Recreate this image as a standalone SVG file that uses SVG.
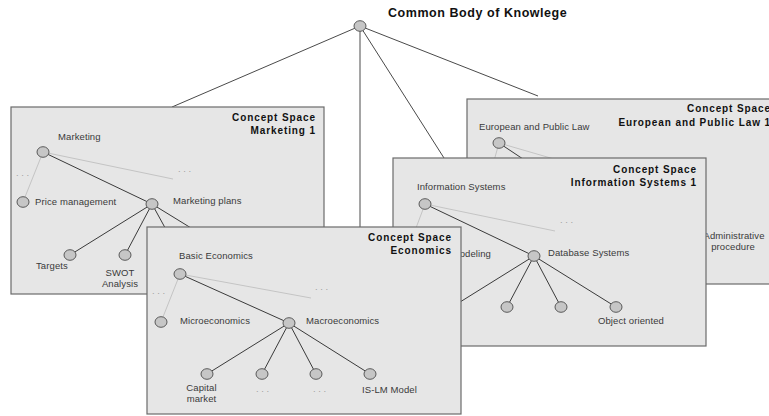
<svg xmlns="http://www.w3.org/2000/svg" width="769" height="416" viewBox="0 0 769 416">
<style>
.bg{fill:#ffffff}
.box{fill:#e6e6e6;stroke:#6b6b6b;stroke-width:1.2}
.node{fill:#c6c6c6;stroke:#5a5a5a;stroke-width:1}
.dk{stroke:#3a3a3a;stroke-width:1;fill:none}
.lt{stroke:#c4c4c4;stroke-width:1;fill:none}
.root{stroke:#4a4a4a;stroke-width:1;fill:none}
.ttl{font-family:"Liberation Sans",Arial,sans-serif;font-weight:bold;font-size:10px;letter-spacing:0.9px;fill:#111;text-anchor:end}
.lbl{font-family:"Liberation Sans",Arial,sans-serif;font-size:9.5px;letter-spacing:0.1px;fill:#3a3a3a}
.mid{text-anchor:middle}
.end{text-anchor:end}
.dots{font-family:"Liberation Sans",Arial,sans-serif;font-size:9.5px;fill:#a0a0a0}
.main{font-family:"Liberation Sans",Arial,sans-serif;font-weight:bold;font-size:12.5px;letter-spacing:0.55px;fill:#111}
</style>
<rect class="bg" x="0" y="0" width="769" height="416"/>

<g id="connectors">
<line class="root" x1="360" y1="26" x2="172" y2="107"/>
<line class="root" x1="360" y1="26" x2="360" y2="227"/>
<line class="root" x1="360" y1="26" x2="444" y2="158"/>
<line class="root" x1="360" y1="26" x2="538" y2="96"/>
</g>

<g id="cbk">
<ellipse class="node" cx="360" cy="26" rx="6" ry="5.3"/>
<text class="main" x="388" y="17">Common Body of Knowlege</text>
</g>

<g id="space-marketing">
<rect class="box" x="11" y="107" width="313" height="187"/>
<text class="ttl" x="316" y="121">Concept Space</text>
<text class="ttl" x="316" y="134">Marketing 1</text>
<g class="connectors">
<line class="lt" x1="43" y1="152" x2="23" y2="202"/>
<line class="lt" x1="43" y1="152" x2="173" y2="179"/>
<line class="dk" x1="43" y1="152" x2="152" y2="204"/>
<line class="dk" x1="152" y1="204" x2="70" y2="255"/>
<line class="dk" x1="152" y1="204" x2="125" y2="255"/>
<line class="dk" x1="152" y1="204" x2="180" y2="255"/>
<line class="dk" x1="152" y1="204" x2="235" y2="255"/>
</g>
<text class="dots" x="16" y="176">. . .</text>
<text class="dots" x="178" y="172">. . .</text>
<g id="n-marketing"><ellipse class="node" cx="43" cy="152" rx="6" ry="5.3"/><text class="lbl" x="58" y="139.5">Marketing</text></g>
<g id="n-price"><ellipse class="node" cx="23" cy="202" rx="6" ry="5.3"/><text class="lbl" x="35" y="205">Price management</text></g>
<g id="n-plans"><ellipse class="node" cx="152" cy="204" rx="6" ry="5.3"/><text class="lbl" x="173" y="204">Marketing plans</text></g>
<g id="n-targets"><ellipse class="node" cx="70" cy="255" rx="6" ry="5.3"/><text class="lbl" x="36" y="269">Targets</text></g>
<g id="n-swot"><ellipse class="node" cx="125" cy="255" rx="6" ry="5.3"/><text class="lbl mid" x="120" y="276">SWOT</text><text class="lbl mid" x="120" y="287">Analysis</text></g>
</g>

<g id="space-law">
<rect class="box" x="467" y="99" width="320" height="185"/>
<text class="ttl" x="771" y="112">Concept Space</text>
<text class="ttl" x="771" y="125.5">European and Public Law 1</text>
<g class="connectors">
<line class="lt" x1="499" y1="143" x2="490" y2="175"/>
<line class="lt" x1="499" y1="143" x2="609" y2="175"/>
<line class="dk" x1="499" y1="143" x2="571" y2="191"/>
</g>
<g id="n-law"><ellipse class="node" cx="499" cy="143" rx="6" ry="5.3"/><text class="lbl" x="479" y="130">European and Public Law</text></g>
<g id="n-admin"><text class="lbl mid" x="734" y="238.5">Administrative</text><text class="lbl mid" x="733" y="249.5">procedure</text></g>
</g>

<g id="space-is">
<rect class="box" x="393" y="158" width="313" height="188"/>
<text class="ttl" x="697" y="172.5">Concept Space</text>
<text class="ttl" x="697" y="186">Information Systems 1</text>
<g class="connectors">
<line class="lt" x1="425" y1="204" x2="410" y2="244"/>
<line class="lt" x1="425" y1="204" x2="555" y2="231"/>
<line class="dk" x1="425" y1="204" x2="534" y2="256"/>
<line class="dk" x1="534" y1="256" x2="452" y2="307"/>
<line class="dk" x1="534" y1="256" x2="507" y2="307"/>
<line class="dk" x1="534" y1="256" x2="561" y2="307"/>
<line class="dk" x1="534" y1="256" x2="616" y2="307"/>
</g>
<text class="dots" x="398" y="227.5">. . .</text>
<text class="dots" x="560" y="223">. . .</text>
<g id="n-infosys"><ellipse class="node" cx="425" cy="204" rx="6" ry="5.3"/><text class="lbl" x="417" y="190">Information Systems</text></g>
<g id="n-modeling"><text class="lbl end" x="491" y="256.5">Modeling</text></g>
<g id="n-db"><ellipse class="node" cx="534" cy="256" rx="6" ry="5.3"/><text class="lbl" x="548" y="256">Database Systems</text></g>
<g id="n-is-c2"><ellipse class="node" cx="507" cy="307" rx="6" ry="5.3"/></g>
<g id="n-is-c3"><ellipse class="node" cx="561" cy="307" rx="6" ry="5.3"/></g>
<g id="n-oo"><ellipse class="node" cx="616" cy="307" rx="6" ry="5.3"/><text class="lbl" x="598" y="323.5">Object oriented</text></g>
</g>

<g id="space-econ">
<rect class="box" x="147" y="227" width="314" height="187"/>
<text class="ttl" x="452" y="241">Concept Space</text>
<text class="ttl" x="452" y="253.5">Economics</text>
<g class="connectors">
<line class="lt" x1="180" y1="274" x2="161" y2="322"/>
<line class="lt" x1="180" y1="274" x2="311" y2="298"/>
<line class="dk" x1="180" y1="274" x2="289" y2="323"/>
<line class="dk" x1="289" y1="323" x2="207" y2="374"/>
<line class="dk" x1="289" y1="323" x2="262" y2="374"/>
<line class="dk" x1="289" y1="323" x2="316" y2="374"/>
<line class="dk" x1="289" y1="323" x2="370" y2="374"/>
</g>
<text class="dots" x="152" y="294">. . .</text>
<text class="dots" x="315" y="290">. . .</text>
<g id="n-basic"><ellipse class="node" cx="180" cy="274" rx="6" ry="5.3"/><text class="lbl" x="179" y="258.5">Basic Economics</text></g>
<g id="n-micro"><ellipse class="node" cx="161" cy="322" rx="6" ry="5.3"/><text class="lbl" x="180" y="323.5">Microeconomics</text></g>
<g id="n-macro"><ellipse class="node" cx="289" cy="323" rx="6" ry="5.3"/><text class="lbl" x="306" y="323.5">Macroeconomics</text></g>
<g id="n-capital"><ellipse class="node" cx="207" cy="374" rx="6" ry="5.3"/><text class="lbl mid" x="201.5" y="390.5">Capital</text><text class="lbl mid" x="201.5" y="402">market</text></g>
<g id="n-ec-c2"><ellipse class="node" cx="262" cy="374" rx="6" ry="5.3"/><text class="dots" x="256" y="392">. . .</text></g>
<g id="n-ec-c3"><ellipse class="node" cx="316" cy="374" rx="6" ry="5.3"/><text class="dots" x="313" y="392">. . .</text></g>
<g id="n-islm"><ellipse class="node" cx="370" cy="374" rx="6" ry="5.3"/><text class="lbl" x="362" y="392.5">IS-LM Model</text></g>
</g>
</svg>
